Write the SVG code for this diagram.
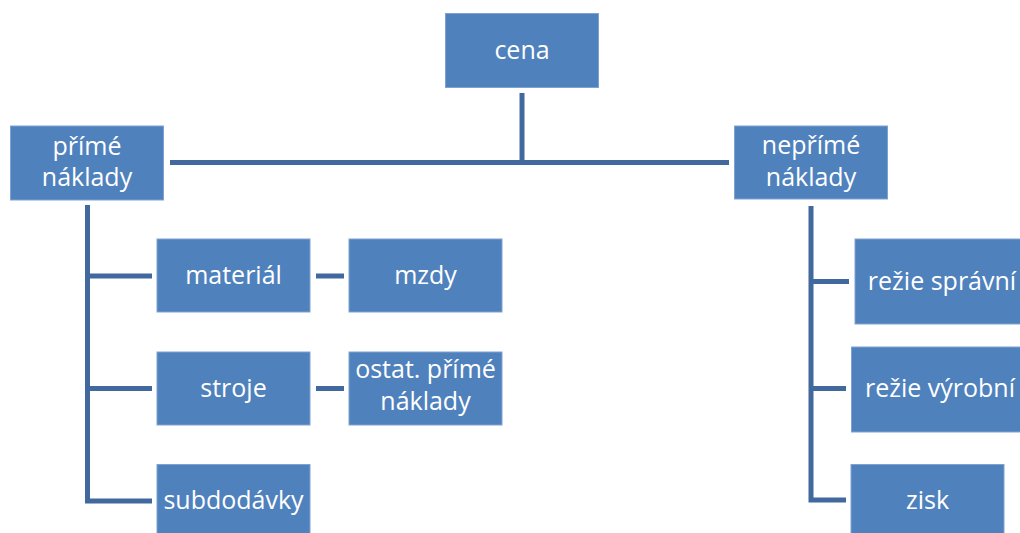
<svg xmlns="http://www.w3.org/2000/svg" width="1020" height="533" viewBox="0 0 1020 533">
<style>
.box{fill:#4F81BD;stroke:#7EA3D3;stroke-width:1}
.t{font-family:"Open Sans","Liberation Sans",sans-serif;font-size:25px;fill:#FFFFFF;text-anchor:middle}
.c{fill:none;stroke:#41699E;stroke-width:5;stroke-linecap:butt}
</style>
<rect width="1020" height="533" fill="#FFFFFF"/>
<g id="connectors">
<line class="c" x1="522" y1="93" x2="522" y2="163"/>
<line class="c" x1="170" y1="162.5" x2="729" y2="162.5"/>
<polyline class="c" points="87.5,205 87.5,501 152,501"/>
<line class="c" x1="87.5" y1="276" x2="152" y2="276"/>
<line class="c" x1="87.5" y1="388.5" x2="152" y2="388.5"/>
<line class="c" x1="316" y1="276" x2="344" y2="276"/>
<line class="c" x1="316" y1="388.5" x2="344" y2="388.5"/>
<polyline class="c" points="811,206 811,500 846,500"/>
<line class="c" x1="811" y1="281.5" x2="849" y2="281.5"/>
<line class="c" x1="811" y1="388.5" x2="846" y2="388.5"/>
</g>
<g id="cena"><rect class="box" x="445.5" y="13.5" width="153" height="74"/><text class="t" x="522" y="59">cena</text></g>
<g id="prime"><rect class="box" x="10.5" y="126" width="153" height="74"/><text class="t" x="87" y="155">přímé</text><text class="t" x="87" y="186">náklady</text></g>
<g id="neprime"><rect class="box" x="734.5" y="126" width="153" height="73"/><text class="t" x="811" y="154">nepřímé</text><text class="t" x="811" y="186">náklady</text></g>
<g id="material"><rect class="box" x="157" y="239" width="153" height="73"/><text class="t" x="233.5" y="284">materiál</text></g>
<g id="mzdy"><rect class="box" x="349" y="239" width="153" height="73"/><text class="t" x="425.5" y="284">mzdy</text></g>
<g id="stroje"><rect class="box" x="157" y="352" width="153" height="73"/><text class="t" x="233.5" y="397">stroje</text></g>
<g id="ostat"><rect class="box" x="349" y="352" width="153" height="73"/><text class="t" x="425.5" y="378">ostat. přímé</text><text class="t" x="425.5" y="410">náklady</text></g>
<g id="subdodavky"><rect class="box" x="157" y="464.5" width="153" height="74"/><text class="t" x="233.5" y="509">subdodávky</text></g>
<g id="rezie-spravni"><rect class="box" x="855" y="239" width="175" height="85"/><text class="t" x="942" y="290">režie správní</text></g>
<g id="rezie-vyrobni"><rect class="box" x="851.5" y="347" width="178" height="85"/><text class="t" x="940" y="397">režie výrobní</text></g>
<g id="zisk"><rect class="box" x="851" y="464.5" width="153" height="74"/><text class="t" x="927.5" y="509">zisk</text></g>
</svg>
